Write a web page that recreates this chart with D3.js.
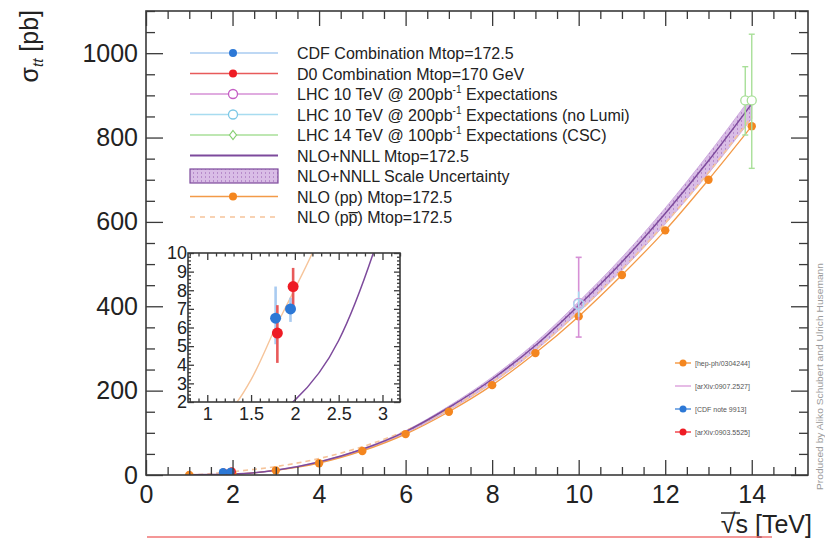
<!DOCTYPE html>
<html><head><meta charset="utf-8">
<script src="https://cdn.jsdelivr.net/npm/d3@7"></script>
<style>
body{margin:0;background:#fff}
text{font-family:"Liberation Sans",Arial,Helvetica,sans-serif}
</style>
</head><body>
<svg id="c" width="825" height="539"></svg>
<script>
// ---------------- data ----------------
const xMajorTicks = [0, 2, 4, 6, 8, 10, 12, 14];
const yMajorTicks = [0, 200, 400, 600, 800, 1000];
const insetXTicks = [1, 1.5, 2, 2.5, 3];
const insetYTicks = [2, 3, 4, 5, 6, 7, 8, 9, 10];

// NLO+NNLL (pp) central and scale band
const nnllX  = [1, 1.5, 2, 2.5, 3, 4, 5, 6, 7, 8, 9, 10, 11, 12, 13, 14];
const nnllY  = [0.3, 0.9, 2.1, 5.3, 11.5, 31, 61, 103, 160, 227, 307, 402, 505, 620, 745, 880];
const nnllLo = [0.28, 0.85, 2.0, 5.0, 11, 29.5, 58.5, 99, 153.5, 218, 295, 386, 485, 595, 715, 845];
const nnllHi = [0.31, 0.93, 2.15, 5.4, 11.8, 31.7, 62.3, 105, 163.5, 232, 314, 411, 516, 633, 761, 898];

// NLO (pp) points
const nloPPX = [1, 2, 3, 4, 5, 6, 7, 8, 9, 10, 11, 12, 13, 14];
const nloPPY = [0.3, 1.9, 11, 28, 57, 97, 150, 213, 289, 376, 474, 580, 700, 827];

// NLO (ppbar) curve
const nloPPbarX = [1, 1.2, 1.34, 1.5, 1.8, 1.96, 2.2, 3, 4, 5, 6, 7, 8, 9, 10, 11, 12, 13, 14];
const nloPPbarY = [0.8, 1.3, 2.0, 3.2, 6.2, 7.7, 10, 20, 39, 67, 105, 156, 220, 297, 387, 487, 597, 717, 850];

// Tevatron measurements
const cdfX = [1.78, 1.95], cdfY = [6.5, 7.0], cdfUp = [1.7, 0.6], cdfDn = [1.4, 0.7];
const d0X  = [1.8, 1.98],  d0Y  = [5.7, 8.2], d0Up  = [1.5, 1.0], d0Dn  = [1.6, 1.1];

// LHC expectations
const lhc10X = [10], lhc10Y = [407], lhc10Up = [109], lhc10Dn = [80];
const lhc10nlX = [10], lhc10nlY = [405], lhc10nlUp = [30], lhc10nlDn = [30];
const lhc14X = [13.85, 14.0], lhc14Y = [888, 888], lhc14Up = [80, 157], lhc14Dn = [82, 161];

const legendLabels = [
  "CDF Combination Mtop=172.5",
  "D0 Combination Mtop=170 GeV",
  "LHC 10 TeV @ 200pb|-1| Expectations",
  "LHC 10 TeV @ 200pb|-1| Expectations (no Lumi)",
  "LHC 14 TeV @ 100pb|-1| Expectations (CSC)",
  "NLO+NNLL Mtop=172.5",
  "NLO+NNLL Scale Uncertainty",
  "NLO (pp) Mtop=172.5",
  "NLO (pp\u0305) Mtop=172.5"
];
const refLabels = ["[hep-ph/0304244]", "[arXiv:0907.2527]", "[CDF note 9913]", "[arXiv:0903.5525]"];

// ---------------- colours ----------------
const C = {
  blue:"#2c78d6", blueL:"#a9cbf1", red:"#ee1c24", redL:"#e85a5a",
  mag:"#c45dc4", magL:"#d690d6", cyan:"#7cc8e6", cyanL:"#a8dcf0",
  green:"#86cf72", greenL:"#a8df98", purple:"#7d4a9c", band:"#d9bde6",
  orange:"#f4861f", orangeL:"#f39a48", dash:"#f6c49a", frame:"#3a3a3a", text:"#222"
};

const svg = d3.select("#c");
const defs = svg.append("defs");
const pat = defs.append("pattern").attr("id","hatch").attr("patternUnits","userSpaceOnUse")
  .attr("width",4).attr("height",4);
pat.append("rect").attr("width",4).attr("height",4).attr("fill",C.band);
pat.append("rect").attr("x",1).attr("y",0).attr("width",1).attr("height",2).attr("fill","#b78ccb");

// ---------------- main scales ----------------
const X0 = 146, X1 = 808, Y0 = 475, Y1 = 11;
const x = d3.scaleLinear().domain([0, 15.3]).range([X0, X1]);
const y = d3.scaleLinear().domain([0, 1100]).range([Y0, Y1]);

defs.append("clipPath").attr("id","clipMain").append("rect")
  .attr("x",X0).attr("y",Y1).attr("width",X1-X0).attr("height",Y0-Y1);

const gPlot = svg.append("g").attr("clip-path","url(#clipMain)");

const crv = d3.curveMonotoneX;
const band = d3.area().x((d,i)=>x(nnllX[i])).y0((d,i)=>y(nnllLo[i])).y1((d,i)=>y(nnllHi[i])).curve(crv);
gPlot.append("path").attr("d", band(nnllX)).attr("fill","url(#hatch)").attr("stroke","#c9a3da").attr("stroke-width",0.8);

const line = (xs, ys, sx, sy) => d3.line().x((d,i)=>sx(xs[i])).y((d,i)=>sy(ys[i])).curve(crv)(xs);

gPlot.append("path").attr("d", line(nloPPbarX, nloPPbarY, x, y)).attr("fill","none")
  .attr("stroke",C.dash).attr("stroke-width",1.6).attr("stroke-dasharray","5,4");
gPlot.append("path").attr("d", line(nloPPX, nloPPY, x, y)).attr("fill","none")
  .attr("stroke",C.orangeL).attr("stroke-width",1.3);
gPlot.append("path").attr("d", line(nnllX, nnllY, x, y)).attr("fill","none")
  .attr("stroke",C.purple).attr("stroke-width",1.5);

gPlot.selectAll("circle.nlo").data(nloPPX).join("circle").attr("class","nlo")
  .attr("cx",(d)=>x(d)).attr("cy",(d,i)=>y(nloPPY[i])).attr("r",4.2).attr("fill",C.orange);

function errPts(g, xs, ys, ups, dns, sx, sy, col, bw, cap) {
  xs.forEach((xv,i)=>{
    g.append("line").attr("x1",sx(xv)).attr("x2",sx(xv)).attr("y1",sy(ys[i]+ups[i])).attr("y2",sy(ys[i]-dns[i]))
      .attr("stroke",col).attr("stroke-width",bw);
    if (cap) {
      [ys[i]+ups[i], ys[i]-dns[i]].forEach(v=>g.append("line").attr("x1",sx(xv)-cap).attr("x2",sx(xv)+cap)
        .attr("y1",sy(v)).attr("y2",sy(v)).attr("stroke",col).attr("stroke-width",bw));
    }
  });
}
function markers(g, xs, ys, sx, sy, r, fill, stroke) {
  xs.forEach((xv,i)=>g.append("circle").attr("cx",sx(xv)).attr("cy",sy(ys[i])).attr("r",r)
    .attr("fill",fill).attr("stroke",stroke||"none").attr("stroke-width",1.3));
}

// Tevatron points on main plot
errPts(gPlot, d0X, d0Y, d0Up, d0Dn, x, y, C.redL, 2, 0);
errPts(gPlot, cdfX, cdfY, cdfUp, cdfDn, x, y, C.blueL, 2, 0);
markers(gPlot, d0X, d0Y, x, y, 4.2, C.red);
markers(gPlot, cdfX, cdfY, x, y, 4.2, C.blue);

// LHC expectations
errPts(gPlot, lhc10X, lhc10Y, lhc10Up, lhc10Dn, x, y, C.magL, 1.6, 3);
errPts(gPlot, lhc10nlX, lhc10nlY, lhc10nlUp, lhc10nlDn, x, y, C.cyanL, 1.6, 0);
markers(gPlot, lhc10X, lhc10Y, x, y, 5, "none", C.magL);
markers(gPlot, lhc10nlX, lhc10nlY, x, y, 5, "none", C.cyanL);
errPts(gPlot, lhc14X, lhc14Y, lhc14Up, lhc14Dn, x, y, C.greenL, 1.4, 3);
markers(gPlot, lhc14X, lhc14Y, x, y, 4.5, "#fff", C.greenL);

// ---------------- axes (ROOT style, inward ticks) ----------------
const range = (a,b,s)=>d3.range(Math.round(a/s), Math.round(b/s)+1).map(k=>+(k*s).toFixed(6));
const xMinor = range(0, 15, 0.5).filter(v=>!xMajorTicks.includes(v));
const yMinor = range(0, 1100, 50).filter(v=>!yMajorTicks.includes(v));

function styleAxis(g){ g.selectAll(".domain").remove(); g.selectAll("line").attr("stroke",C.frame).attr("stroke-width",1.3); }

svg.append("g").attr("transform",`translate(0,${Y0})`)
  .call(d3.axisBottom(x).tickValues(xMajorTicks).tickSize(-15).tickPadding(10).tickFormat(d3.format("d")))
  .call(styleAxis).call(g=>g.selectAll("text").attr("font-size",25).attr("fill",C.text).attr("font-family","Liberation Sans, Arial"));
svg.append("g").attr("transform",`translate(0,${Y0})`)
  .call(d3.axisBottom(x).tickValues(xMinor).tickSize(-8).tickFormat("")).call(styleAxis);
svg.append("g").attr("transform",`translate(0,${Y1})`)
  .call(d3.axisTop(x).tickValues(xMajorTicks).tickSize(-15).tickFormat("")).call(styleAxis);
svg.append("g").attr("transform",`translate(0,${Y1})`)
  .call(d3.axisTop(x).tickValues(xMinor).tickSize(-8).tickFormat("")).call(styleAxis);

svg.append("g").attr("transform",`translate(${X0},0)`)
  .call(d3.axisLeft(y).tickValues(yMajorTicks).tickSize(-17).tickPadding(8).tickFormat(d3.format("d")))
  .call(styleAxis).call(g=>g.selectAll("text").attr("font-size",25).attr("fill",C.text).attr("font-family","Liberation Sans, Arial"));
svg.append("g").attr("transform",`translate(${X0},0)`)
  .call(d3.axisLeft(y).tickValues(yMinor).tickSize(-9).tickFormat("")).call(styleAxis);
svg.append("g").attr("transform",`translate(${X1},0)`)
  .call(d3.axisRight(y).tickValues(yMajorTicks).tickSize(-17).tickFormat("")).call(styleAxis);
svg.append("g").attr("transform",`translate(${X1},0)`)
  .call(d3.axisRight(y).tickValues(yMinor).tickSize(-9).tickFormat("")).call(styleAxis);

svg.append("rect").attr("x",X0).attr("y",Y1).attr("width",X1-X0).attr("height",Y0-Y1)
  .attr("fill","none").attr("stroke",C.frame).attr("stroke-width",1.6);

// axis titles
const yt = svg.append("text").attr("transform","translate(38,10) rotate(-90)").attr("text-anchor","end")
  .attr("font-size",25).attr("fill",C.text);
yt.append("tspan").text("\u03c3");
yt.append("tspan").attr("font-size",15).attr("font-style","italic").attr("dy",5).text("tt");
yt.append("tspan").attr("dy",-5).text(" [pb]");

const xt = svg.append("text").attr("x",812).attr("y",533).attr("text-anchor","end").attr("font-size",25).attr("fill",C.text);
xt.append("tspan").attr("font-size",27).text("\u221a");
xt.append("tspan").text("s [TeV]");
svg.append("line").attr("x1",721).attr("x2",740).attr("y1",513).attr("y2",513).attr("stroke",C.text).attr("stroke-width",1.4);

// ---------------- legend ----------------
const legY0 = 53, legDy = 20.5, legL0 = 190, legL1 = 278, legM = 233, legT = 297;
const lg = svg.append("g");
const legStyles = [
  {lc:C.blueL, m:"fill", mc:C.blue},
  {lc:C.redL, m:"fill", mc:C.red},
  {lc:C.magL, m:"open", mc:C.mag},
  {lc:C.cyanL, m:"open", mc:C.cyan},
  {lc:C.greenL, m:"diamond", mc:C.green},
  {lc:C.purple, m:"none"},
  {box:true},
  {lc:C.orangeL, m:"fill", mc:C.orange},
  {lc:C.dash, m:"none", dash:true}
];
legendLabels.forEach((lab,i)=>{
  const yy = legY0 + i*legDy, s = legStyles[i];
  if (s.box) {
    lg.append("rect").attr("x",legL0).attr("y",yy-7).attr("width",legL1-legL0).attr("height",14)
      .attr("fill","url(#hatch)").attr("stroke",C.purple).attr("stroke-width",1.2);
  } else {
    lg.append("line").attr("x1",legL0).attr("x2",legL1).attr("y1",yy).attr("y2",yy).attr("stroke",s.lc)
      .attr("stroke-width",s.lc===C.purple?1.8:1.5).attr("stroke-dasharray",s.dash?"5,5":null);
    if (s.m==="fill") lg.append("circle").attr("cx",legM).attr("cy",yy).attr("r",4).attr("fill",s.mc);
    if (s.m==="open") lg.append("circle").attr("cx",legM).attr("cy",yy).attr("r",4.5).attr("fill","#fff").attr("stroke",s.mc).attr("stroke-width",1.3);
    if (s.m==="diamond") lg.append("path").attr("d",`M${legM},${yy-4.5}L${legM+3.5},${yy}L${legM},${yy+4.5}L${legM-3.5},${yy}Z`)
      .attr("fill","#fff").attr("stroke",s.mc).attr("stroke-width",1.2);
  }
  const t = lg.append("text").attr("x",legT).attr("y",yy+6).attr("font-size",16).attr("fill",C.text);
  lab.split("|").forEach((part,k)=>{
    if (k===1) t.append("tspan").attr("font-size",10).attr("dy",-7).text(part);
    else if (k===2) t.append("tspan").attr("dy",7).text(part);
    else t.append("tspan").text(part);
  });
});

// small reference legend
const refCols = [C.orange, C.magL, C.blue, C.red];
refLabels.forEach((lab,i)=>{
  const yy = 363 + i*23;
  svg.append("line").attr("x1",675).attr("x2",691).attr("y1",yy).attr("y2",yy).attr("stroke",refCols[i]).attr("stroke-width",1.2);
  if (i!==1) svg.append("circle").attr("cx",683).attr("cy",yy).attr("r",3.5).attr("fill",refCols[i]);
  svg.append("text").attr("x",695).attr("y",yy+2.5).attr("font-size",7).attr("fill","#555").text(lab);
});

// credit text on the right
svg.append("text").attr("transform","translate(823,490) rotate(-90)").attr("font-size",8.5)
  .attr("fill","#9a9a9a").attr("textLength",227).attr("lengthAdjust","spacingAndGlyphs")
  .text("Produced by Aliko Schubert and Ulrich Husemann");

// red bottom rule
svg.append("line").attr("x1",147).attr("x2",772).attr("y1",537).attr("y2",537).attr("stroke","#f07575").attr("stroke-width",1.5);

// ---------------- inset ----------------
const IX0 = 188, IX1 = 400, IY0 = 402, IY1 = 253;
const xi = d3.scaleLinear().domain([0.78, 3.2]).range([IX0, IX1]);
const yi = d3.scaleLinear().domain([2, 10]).range([IY0, IY1]);
svg.append("rect").attr("x",IX0).attr("y",IY1).attr("width",IX1-IX0).attr("height",IY0-IY1).attr("fill","#fff");
defs.append("clipPath").attr("id","clipIn").append("rect").attr("x",IX0).attr("y",IY1).attr("width",IX1-IX0).attr("height",IY0-IY1);
const gi = svg.append("g").attr("clip-path","url(#clipIn)");
gi.append("path").attr("d", line(nloPPbarX, nloPPbarY, xi, yi)).attr("fill","none").attr("stroke",C.dash).attr("stroke-width",1.4);
gi.append("path").attr("d", line(nnllX, nnllY, xi, yi)).attr("fill","none").attr("stroke",C.purple).attr("stroke-width",1.5);
errPts(gi, cdfX, cdfY, cdfUp, cdfDn, xi, yi, C.blueL, 2.6, 0);
errPts(gi, d0X, d0Y, d0Up, d0Dn, xi, yi, C.redL, 2.6, 0);
markers(gi, cdfX, cdfY, xi, yi, 5.5, C.blue);
markers(gi, d0X, d0Y, xi, yi, 5.5, C.red);

const ixMinor = range(0.8, 3.2, 0.1).filter(v=>!insetXTicks.includes(v));
const iyMinor = range(2, 10, 0.2).filter(v=>!insetYTicks.includes(v));
svg.append("g").attr("transform",`translate(0,${IY0})`)
  .call(d3.axisBottom(xi).tickValues(insetXTicks).tickSize(-7).tickPadding(5).tickFormat(d=>String(d)))
  .call(styleAxis).call(g=>g.selectAll("text").attr("font-size",18).attr("fill",C.text).attr("font-family","Liberation Sans, Arial"));
svg.append("g").attr("transform",`translate(0,${IY0})`).call(d3.axisBottom(xi).tickValues(ixMinor).tickSize(-3.5).tickFormat("")).call(styleAxis);
svg.append("g").attr("transform",`translate(0,${IY1})`).call(d3.axisTop(xi).tickValues(insetXTicks).tickSize(-7).tickFormat("")).call(styleAxis);
svg.append("g").attr("transform",`translate(0,${IY1})`).call(d3.axisTop(xi).tickValues(ixMinor).tickSize(-3.5).tickFormat("")).call(styleAxis);
svg.append("g").attr("transform",`translate(${IX0},0)`)
  .call(d3.axisLeft(yi).tickValues(insetYTicks).tickSize(-6).tickPadding(1).tickFormat(d3.format("d")))
  .call(styleAxis).call(g=>g.selectAll("text").attr("font-size",18).attr("fill",C.text).attr("font-family","Liberation Sans, Arial"));
svg.append("g").attr("transform",`translate(${IX0},0)`).call(d3.axisLeft(yi).tickValues(iyMinor).tickSize(-3).tickFormat("")).call(styleAxis);
svg.append("g").attr("transform",`translate(${IX1},0)`).call(d3.axisRight(yi).tickValues(insetYTicks).tickSize(-6).tickFormat("")).call(styleAxis);
svg.append("g").attr("transform",`translate(${IX1},0)`).call(d3.axisRight(yi).tickValues(iyMinor).tickSize(-3).tickFormat("")).call(styleAxis);
svg.append("rect").attr("x",IX0).attr("y",IY1).attr("width",IX1-IX0).attr("height",IY0-IY1)
  .attr("fill","none").attr("stroke",C.frame).attr("stroke-width",1.6);
</script>
</body></html>
